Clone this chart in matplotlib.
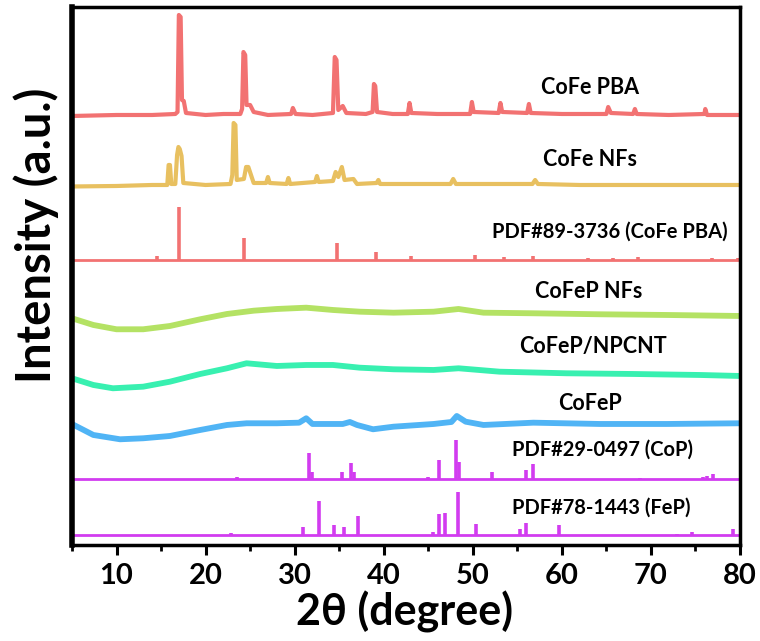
import numpy as np
import matplotlib.pyplot as plt
from matplotlib.ticker import MultipleLocator

plt.rcParams['font.family'] = ['Lato', 'DejaVu Sans']
plt.rcParams['font.weight'] = 'bold'

# measured patterns: 2theta and intensity above each trace's own baseline
pba_x = [5, 10, 14, 16.6, 16.85, 17.0, 17.2, 17.35, 17.55, 17.8, 20, 22, 23.9, 24.1, 24.25, 24.45,
         24.6, 25.0, 25.4, 27, 29.6, 29.8, 30.1, 32, 34.3, 34.5, 34.7, 34.9, 35.4, 35.8, 38.0,
         38.75, 38.9, 39.05, 39.25, 41, 42.7, 42.9, 43.1, 46, 49.7, 49.9, 50.1, 52.9, 53.1, 53.3,
         56.1, 56.3, 56.5, 60, 65.0, 65.2, 65.5, 68.0, 68.2, 68.4, 72, 76.0, 76.1, 76.3, 80]
pba_y = [-1, 0, 0, 1, 3, 100, 98, 15, 14, 2, 0, 1, 1, 6, 63, 60,
         10, 10, 3, 0, 1, 7, 1, 0, 2, 58, 55, 5, 9, 2, 1,
         3, 31, 29, 3, 1, 1, 12, 2, 1, 1, 13, 3, 2, 12, 3,
         2, 11, 2, 1, 1, 8, 2, 1, 6, 1, 0, 1, 6, 0, 0]

nfs_x = [5, 10, 14, 15.7, 15.85, 16.0, 16.15, 16.6, 16.8, 16.95, 17.1, 17.3, 17.5, 20, 22.8,
         23.0, 23.15, 23.35, 23.5, 24.3, 24.55, 24.8, 25.1, 25.4, 26.8, 27.0, 27.2, 29.1, 29.3,
         29.5, 32.3, 32.5, 32.7, 34.3, 34.6, 34.9, 35.3, 35.6, 36.6, 37, 39.2, 39.4, 39.6, 43,
         47.5, 47.8, 48.1, 52, 56.7, 57.0, 57.3, 62, 70, 80]
nfs_y = [-1.5, -1, 0, 0, 20, 20, 1, 1, 30, 38, 36, 29, 2, 0, 1,
         10, 62, 60, 5, 6, 18, 18, 10, 2, 2, 8, 2, 1, 7,
         1, 3, 9, 3, 4, 13, 8, 18, 5, 6, 1, 2, 5, 1, 1,
         1, 6, 1, 1, 1, 5, 1, 0, 0, 0]

nfp_x = [5, 7.4, 10, 13, 16, 19.4, 22.4, 25.4, 28, 31.3, 34.3, 37.3, 41.1, 45.6, 48.4, 51.2,
         56.8, 64.3, 71.8, 80]
nfp_y = [11.7, 5, 0.7, 0.7, 4, 10.7, 16, 19.3, 21, 22.3, 20, 18.3, 17.3, 18.3, 21, 17.3,
         16.7, 15.7, 15, 14]

cnt_x = [5, 7.4, 9.6, 13, 16, 19.4, 22.4, 24.6, 28, 31.3, 34.3, 37.3, 41.1, 45.6, 48.4, 53,
         60.5, 68, 75.5, 80]
cnt_y = [11.7, 5, 1.7, 3.3, 8.3, 16, 21.7, 26.7, 24, 25, 25, 22.3, 20.7, 20, 21.7, 18.3,
         16.7, 16, 15, 14]

cfp_x = [5, 7.4, 10.4, 13, 16, 19.4, 22.4, 24.6, 28, 30.5, 31.3, 32, 35.4, 36.2, 37, 38.8,
         41.1, 45.6, 47.6, 48.2, 49.2, 51.2, 56.8, 64.3, 71.8, 80]
cfp_y = [16, 5, 0.7, 1.7, 4, 10, 15, 16.7, 16.7, 17.3, 21.7, 16, 16, 18, 15, 10.7,
         13.3, 16, 18, 24, 18.3, 15, 17.3, 16, 16, 16.7]

# reference cards (stick patterns)
ref_pba_x = [14.6, 17.0, 24.3, 34.8, 39.1, 43.1, 50.2, 53.5, 56.8, 62.9, 65.7, 68.6, 76.8, 79.8]
ref_pba_h = [4, 53, 22, 17, 8, 4, 5, 3, 4, 1.5, 1.5, 3, 1.5, 2]

ref_cop_x = [23.5, 31.6, 32.0, 35.3, 36.3, 36.7, 45.0, 46.2, 48.1, 48.4, 52.2, 56.0, 56.8,
             68.8, 75.8, 76.3, 77.0]
ref_cop_h = [2, 26, 7, 7, 16, 7, 2, 19, 39, 17, 7, 9, 15, 1, 2, 3, 5]

ref_fep_x = [22.9, 30.9, 32.7, 34.4, 35.5, 37.1, 45.5, 46.2, 46.9, 48.3, 50.4, 55.3, 56.0,
             59.7, 72.9, 74.6, 79.2]
ref_fep_h = [2, 8, 34, 10, 8, 19, 3, 21, 22, 43, 11, 6, 12, 10, 1, 3, 6]

fig = plt.figure(figsize=(7.6, 6.41), dpi=100)
ax = fig.add_axes([0.0947, 0.1498, 0.879, 0.8393])

red = '#F27272'
magenta = '#D23CF0'

curves = [
    (pba_x, pba_y, 430, red, 3.0, 'CoFe PBA', 590, 88),
    (nfs_x, nfs_y, 360, '#E8C060', 3.0, 'CoFe NFs', 590, 160),
    (nfp_x, nfp_y, 215, '#B4E264', 4.2, 'CoFeP NFs', 589, 292),
    (cnt_x, cnt_y, 155, '#38F0B0', 4.2, 'CoFeP/NPCNT', 593, 347),
    (cfp_x, cfp_y, 105, '#50B4F5', 4.2, 'CoFeP', 590, 403),
]
for xs, ys, off, col, lw, name, tx, ty in curves:
    ax.plot(xs, np.array(ys) + off, color=col, lw=lw, solid_joinstyle='round')
    ax.annotate(name, xy=(tx, 641 - ty), xycoords='figure pixels', ha='center',
                va='center', fontsize=15.5, fontweight='bold')

cards = [
    (ref_pba_x, ref_pba_h, 285, red, 'PDF#89-3736 (CoFe PBA)', 610, 232),
    (ref_cop_x, ref_cop_h, 66, magenta, 'PDF#29-0497 (CoP)', 602, 450),
    (ref_fep_x, ref_fep_h, 10, magenta, 'PDF#78-1443 (FeP)', 601, 508),
]
for xs, hs, off, col, name, tx, ty in cards:
    ax.plot([5, 80], [off, off], color=col, lw=2)
    ax.vlines(xs, off, np.array(hs) + off, color=col, lw=2.6)
    ax.annotate(name, xy=(tx, 641 - ty), xycoords='figure pixels', ha='center',
                va='center', fontsize=14.5, fontweight='bold')

ax.set_xlim(5, 80)
ax.set_ylim(0, 538)
ax.set_yticks([])
ax.xaxis.set_major_locator(MultipleLocator(10))
ax.xaxis.set_minor_locator(MultipleLocator(5))
ax.tick_params(axis='x', which='major', direction='out', length=7, width=2.2,
               labelsize=21, pad=6)
ax.tick_params(axis='x', which='minor', direction='out', length=4, width=2)
for lab in ax.get_xticklabels():
    lab.set_fontweight('bold')
for side in ['top', 'right', 'bottom']:
    ax.spines[side].set_linewidth(2.5)
ax.spines['left'].set_linewidth(4)

fig.text(405 / 760, 1 - 612 / 641, '2θ (degree)', fontsize=31, fontweight='bold',
         ha='center', va='center')
fig.text(36 / 760, 1 - 235 / 641, 'Intensity (a.u.)', fontsize=34, fontweight='bold',
         ha='center', va='center', rotation=90)

fig.savefig('out.png', dpi=100)
